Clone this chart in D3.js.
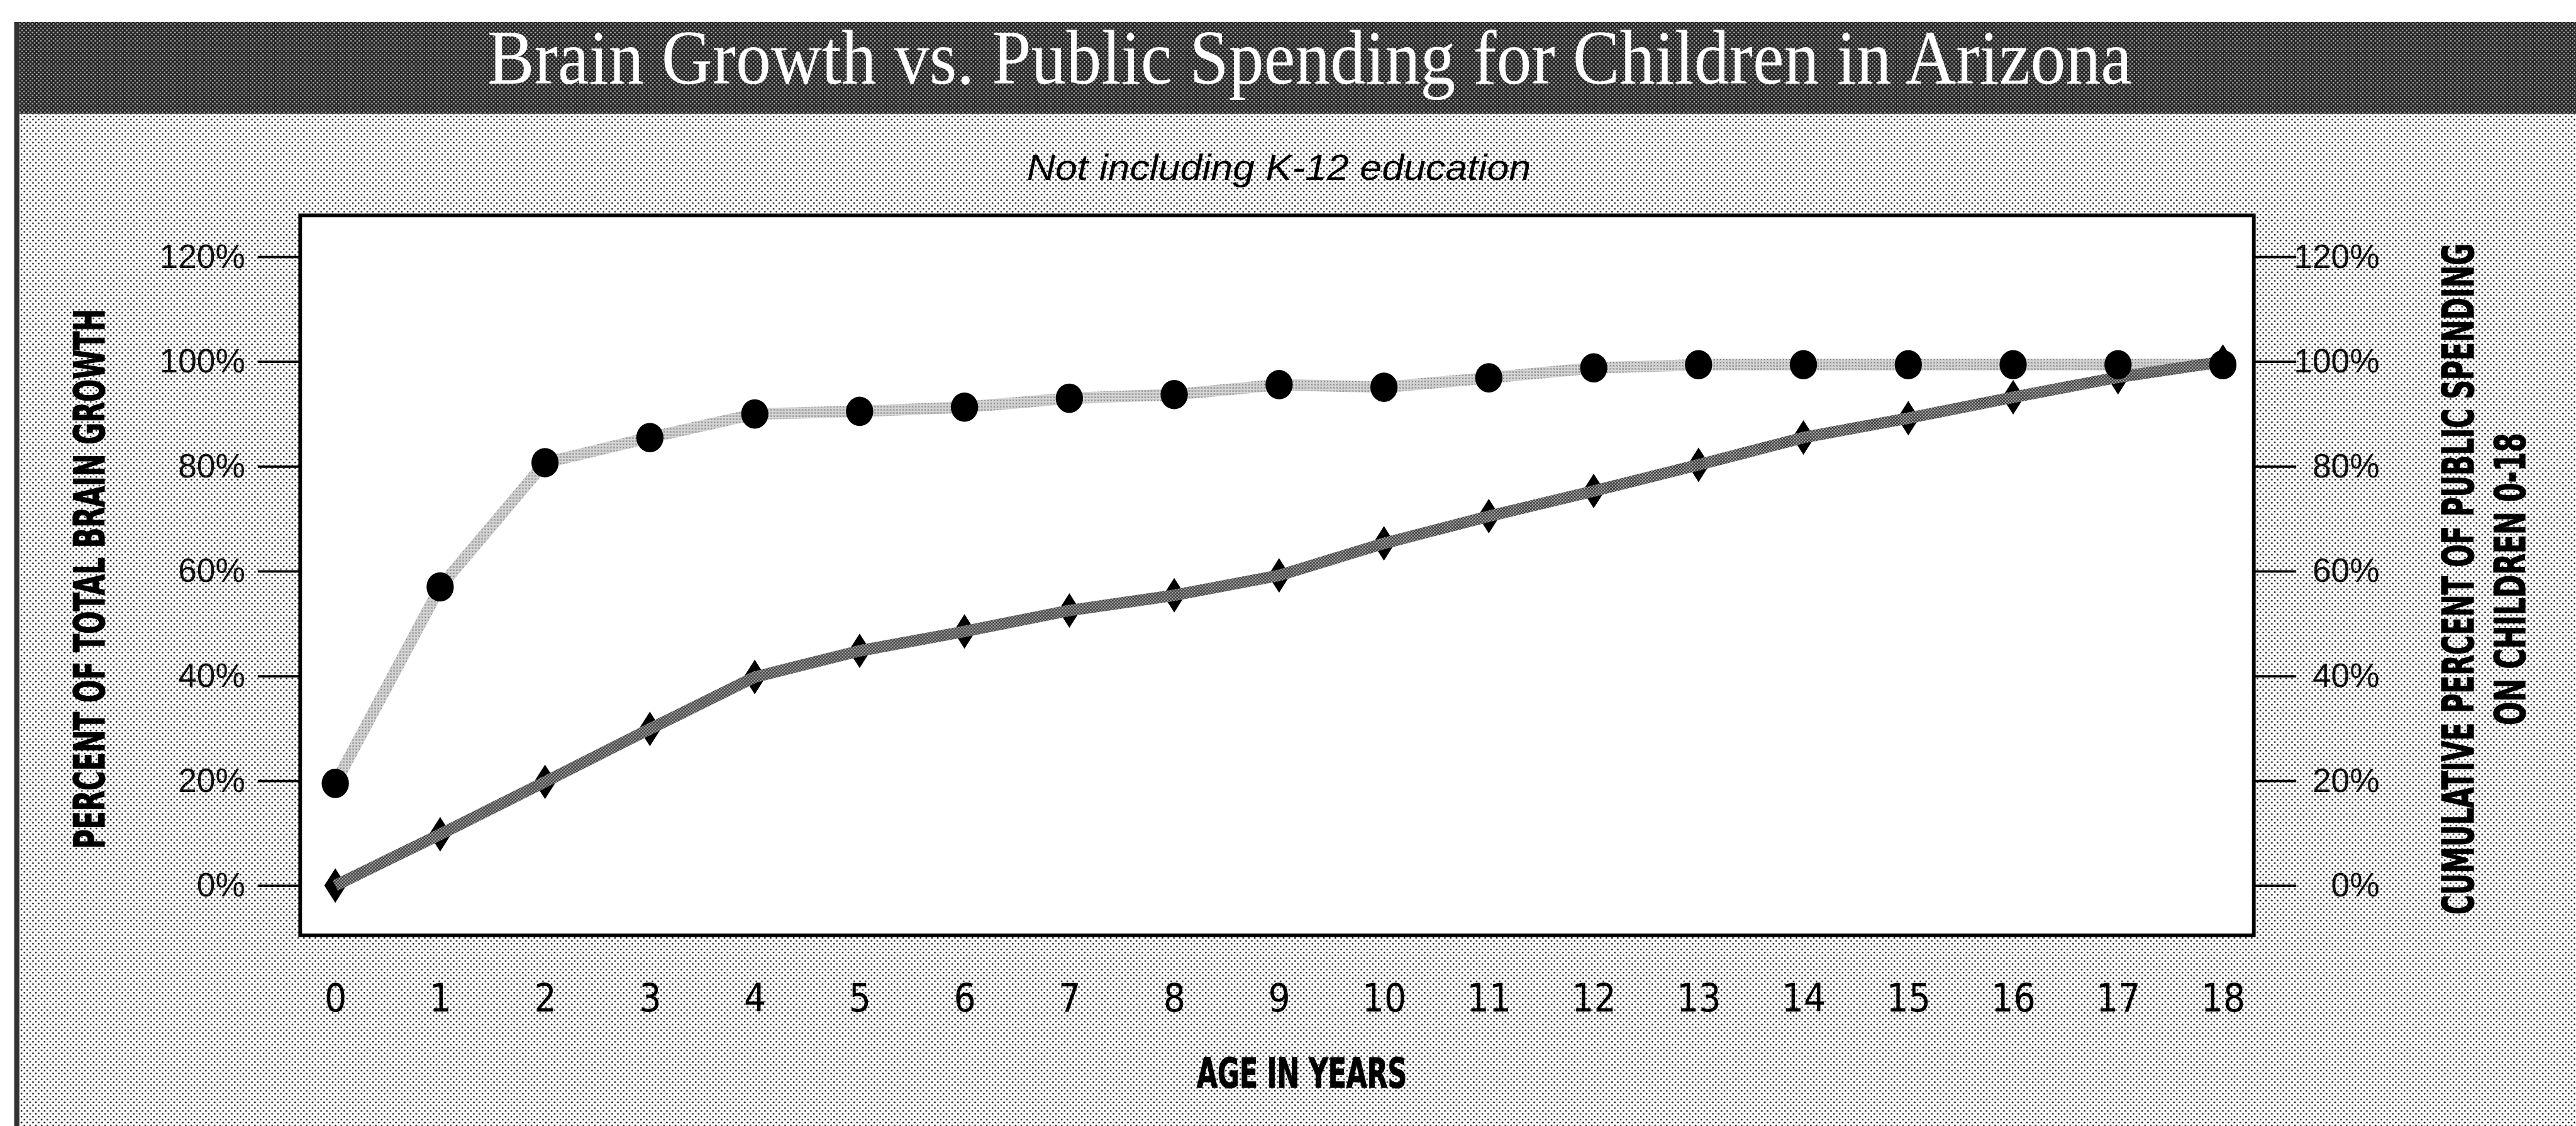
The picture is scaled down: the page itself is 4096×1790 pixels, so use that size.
<!DOCTYPE html>
<html>
<head>
<meta charset="utf-8">
<script src="https://cdn.jsdelivr.net/npm/d3@7"></script>
<style>
  html, body { margin: 0; padding: 0; background: #ffffff; }
  svg { display: block; }
</style>
</head>
<body>
<div id="chart"></div>
<script>
// ---------------- data ----------------
const ages = [0, 1, 2, 3, 4, 5, 6, 7, 8, 9, 10, 11, 12, 13, 14, 15, 16, 17, 18];
const brainGrowth = [19.5, 57, 80.7, 85.5, 90, 90.5, 91.3, 93, 93.7, 95.6, 95.1, 96.9, 98.8, 99.4, 99.4, 99.4, 99.4, 99.4, 99.4];
const publicSpending = [0, 9.8, 19.8, 29.9, 39.8, 44.8, 48.5, 52.5, 55.4, 59.2, 65.3, 70.5, 75.3, 80.3, 85.5, 89.2, 93.2, 97, 100];
const yTicks = [0, 20, 40, 60, 80, 100, 120];
const yTickLabels = ["0%", "20%", "40%", "60%", "80%", "100%", "120%"];
const xTickLabels = ages.map(String);
const titleText = "Brain Growth vs. Public Spending for Children in Arizona";
const subtitleText = "Not including K-12 education";
const leftAxisTitle = "PERCENT OF TOTAL BRAIN GROWTH";
const rightAxisTitle = ["CUMULATIVE PERCENT OF PUBLIC SPENDING", "ON CHILDREN 0-18"];
const xAxisTitle = "AGE IN YEARS";

// ---------------- layout (reference pixel units, scaled down) ----------------
const W = 4096, H = 1790;
const S = W / 4917;
const box = { left: 573, right: 4302, top: 411, bottom: 1785 };

const svg = d3.select("#chart").append("svg")
  .attr("width", W).attr("height", H);

const defs = svg.append("defs");
// light stipple background
const bgPat = defs.append("pattern").attr("id", "stipple")
  .attr("patternUnits", "userSpaceOnUse").attr("width", 11).attr("height", 11);
bgPat.append("rect").attr("width", 11).attr("height", 11).attr("fill", "#ffffff");
bgPat.append("circle").attr("cx", 2.5).attr("cy", 2.5).attr("r", 1.7).attr("fill", "#1a1a1a");
bgPat.append("circle").attr("cx", 8).attr("cy", 8).attr("r", 1.7).attr("fill", "#1a1a1a");
// dark title band halftone
const tPat = defs.append("pattern").attr("id", "bandPat")
  .attr("patternUnits", "userSpaceOnUse").attr("width", 8).attr("height", 8);
tPat.append("rect").attr("width", 8).attr("height", 8).attr("fill", "#222");
tPat.append("circle").attr("cx", 2).attr("cy", 2).attr("r", 1.5).attr("fill", "#c0c0c0");
tPat.append("circle").attr("cx", 6).attr("cy", 6).attr("r", 1.5).attr("fill", "#c0c0c0");
// line halftones
const lp = defs.append("pattern").attr("id", "lightLine")
  .attr("patternUnits", "userSpaceOnUse").attr("width", 6).attr("height", 6);
lp.append("rect").attr("width", 6).attr("height", 6).attr("fill", "#d8d8d8");
lp.append("path").attr("d", "M0.5,0.5L3.5,3.5M3.5,0.5L0.5,3.5").attr("stroke", "#444").attr("stroke-width", 0.9);
const dp = defs.append("pattern").attr("id", "darkLine")
  .attr("patternUnits", "userSpaceOnUse").attr("width", 6).attr("height", 6);
dp.append("rect").attr("width", 6).attr("height", 6).attr("fill", "#c2c2c2");
dp.append("path").attr("d", "M0,0L6,6M6,0L0,6").attr("stroke", "#1a1a1a").attr("stroke-width", 1.3);

const g = svg.append("g").attr("transform", `scale(${S})`);

// background
g.append("rect").attr("x", 37).attr("y", 42).attr("width", 4917 - 37).attr("height", 2149 - 42)
  .attr("fill", "url(#stipple)");
// title band
g.append("rect").attr("x", 37).attr("y", 42).attr("width", 4917 - 37).attr("height", 175)
  .attr("fill", "url(#bandPat)");
// left dark border
g.append("rect").attr("x", 27).attr("y", 42).attr("width", 10).attr("height", 2149 - 42)
  .attr("fill", "#333");

// helper: squeeze a text horizontally to a target length
function fitText(sel, target) {
  const natural = sel.node().getComputedTextLength();
  const k = natural > 0 ? target / natural : 1;
  sel.attr("transform", `${sel.attr("data-base") || ""} scale(${k},1)`);
  return sel;
}

// title
const title = g.append("text")
  .attr("data-base", "translate(2500,160)")
  .attr("text-anchor", "middle")
  .attr("font-family", "'Liberation Serif', 'Times New Roman', serif")
  .attr("font-size", 147).attr("fill", "#ffffff")
  .text(titleText);
fitText(title, 3139);

// subtitle
const sub = g.append("text")
  .attr("data-base", "translate(2441,343)")
  .attr("text-anchor", "middle")
  .attr("font-family", "'Liberation Sans', Arial, sans-serif")
  .attr("font-style", "italic")
  .attr("font-size", 70).attr("fill", "#000")
  .text(subtitleText);
fitText(sub, 962);

// plot box
g.append("rect").attr("x", box.left).attr("y", box.top)
  .attr("width", box.right - box.left).attr("height", box.bottom - box.top)
  .attr("fill", "#ffffff").attr("stroke", "#000").attr("stroke-width", 7);

// scales
const x = d3.scaleLinear().domain([0, 18]).range([640, 4243]);
const y = d3.scaleLinear().domain([0, 120]).range([1690, 490]);

// left axis
const leftAxis = d3.axisLeft(y).tickValues(yTicks)
  .tickFormat((d, i) => yTickLabels[i]).tickSize(81).tickSizeOuter(0).tickPadding(24);
const la = g.append("g").attr("transform", `translate(${box.left},0)`).call(leftAxis);
la.select(".domain").remove();
la.selectAll(".tick line").attr("stroke", "#000").attr("stroke-width", 4.5);
la.selectAll(".tick text")
  .attr("font-family", "'Liberation Sans', Arial, sans-serif")
  .attr("font-size", 64).attr("fill", "#111");

// right axis
const rightAxis = d3.axisRight(y).tickValues(yTicks)
  .tickFormat((d, i) => yTickLabels[i]).tickSize(81).tickSizeOuter(0);
const ra = g.append("g").attr("transform", `translate(${box.right},0)`).call(rightAxis);
ra.select(".domain").remove();
ra.selectAll(".tick line").attr("stroke", "#000").attr("stroke-width", 4.5);
ra.selectAll(".tick text")
  .attr("text-anchor", "end").attr("x", 240)
  .attr("font-family", "'Liberation Sans', Arial, sans-serif")
  .attr("font-size", 64).attr("fill", "#111");

// bottom axis (labels only)
const bottomAxis = d3.axisBottom(x).tickValues(ages)
  .tickFormat((d, i) => xTickLabels[i]).tickSize(0).tickSizeOuter(0);
const ba = g.append("g").attr("transform", `translate(0,${box.bottom})`).call(bottomAxis);
ba.select(".domain").remove();
ba.selectAll(".tick text")
  .attr("y", 145).attr("dy", 0)
  .attr("font-family", "'Liberation Sans Narrow', 'DejaVu Sans Condensed', 'Arial Narrow', sans-serif")
  .attr("font-size", 74).attr("fill", "#000");

// axis titles
const boldNarrow = "'Liberation Sans Narrow', 'DejaVu Sans Condensed', 'Arial Narrow', sans-serif";
function axisTitle(base, size, txt, len) {
  const t = g.append("text")
    .attr("data-base", base)
    .attr("text-anchor", "middle")
    .attr("font-family", boldNarrow).attr("font-weight", "bold")
    .attr("font-size", size).attr("fill", "#000")
    .attr("stroke", "#000").attr("stroke-width", 1.5)
    .text(txt);
  fitText(t, len);
}
axisTitle("translate(199,1105) rotate(-90)", 81, leftAxisTitle, 1031);
axisTitle("translate(4721,1105) rotate(-90)", 83, rightAxisTitle[0], 1281);
axisTitle("translate(4820,1105) rotate(-90)", 81, rightAxisTitle[1], 558);
axisTitle("translate(2485,2076)", 78, xAxisTitle, 401);

// series
const line = d3.line().x((d, i) => x(ages[i])).y(d => y(d));

// brain growth line
g.append("path").datum(brainGrowth)
  .attr("d", line).attr("fill", "none")
  .attr("stroke", "url(#lightLine)").attr("stroke-width", 22)
  .attr("stroke-linejoin", "round");

// spending diamonds
const dw = 21, dh = 33;
g.append("g").selectAll("path").data(publicSpending).join("path")
  .attr("d", (d, i) => {
    const cx = x(ages[i]), cy = y(d);
    return `M${cx},${cy - dh}L${cx + dw},${cy}L${cx},${cy + dh}L${cx - dw},${cy}Z`;
  })
  .attr("fill", "#000");

// spending line
g.append("path").datum(publicSpending)
  .attr("d", line).attr("fill", "none")
  .attr("stroke", "url(#darkLine)").attr("stroke-width", 22)
  .attr("stroke-linejoin", "round");

// brain growth circles
g.append("g").selectAll("ellipse").data(brainGrowth).join("ellipse")
  .attr("cx", (d, i) => x(ages[i])).attr("cy", d => y(d))
  .attr("rx", 26).attr("ry", 28)
  .attr("fill", "#000");
</script>
</body>
</html>
